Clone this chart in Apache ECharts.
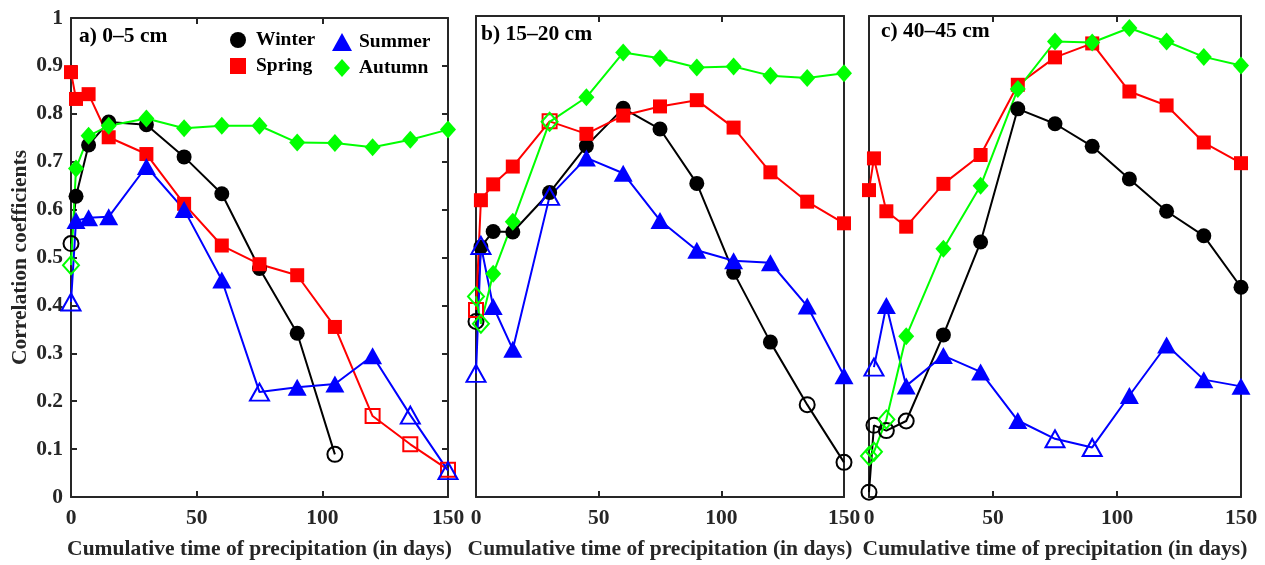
<!DOCTYPE html>
<html>
<head>
<meta charset="utf-8">
<script src="https://cdn.jsdelivr.net/npm/echarts@6/dist/echarts.min.js"></script>
<style>
  html, body { margin: 0; padding: 0; background: #fff; }
  #chart { width: 1265px; height: 565px; }
</style>
</head>
<body>
<div id="chart"></div>
<script>
// cumulative time of precipitation (days)
const days = [0, 2, 7, 15, 30, 45, 60, 75, 90, 105, 120, 135, 150];
const seasons = ['Winter', 'Spring', 'Summer', 'Autumn'];
const panelTitles = ['a) 0\u20135 cm', 'b) 15\u201320 cm', 'c) 40\u201345 cm'];
const xName = 'Cumulative time of precipitation (in days)';
const yName = 'Correlation coefficients';

// correlation coefficients per panel/season (null = no point)
// *Open = indices of hollow (non-significant) markers
const aWinter = [0.529, 0.628, 0.735, 0.783, 0.777, 0.71, 0.633, 0.477, 0.342, 0.089, null, null, null];
const aWinterOpen = [0, 9];
const aSpring = [0.887, 0.831, 0.841, 0.751, 0.716, 0.612, 0.525, 0.486, 0.463, 0.355, 0.169, 0.11, 0.057];
const aSpringOpen = [10, 11, 12];
const aSummer = [0.407, 0.577, 0.583, 0.585, 0.69, 0.6, 0.453, 0.219, 0.229, 0.236, 0.295, 0.171, 0.055];
const aSummerOpen = [0, 7, 11, 12];
const aAutumn = [0.484, 0.686, 0.754, 0.775, 0.79, 0.77, 0.775, 0.775, 0.74, 0.739, 0.73, 0.746, 0.767];
const aAutumnOpen = [0];

const bWinter = [0.365, 0.52, 0.552, 0.551, 0.633, 0.73, 0.808, 0.765, 0.652, 0.467, 0.322, 0.192, 0.072];
const bWinterOpen = [0, 11, 12];
const bSpring = [0.389, 0.617, 0.65, 0.687, 0.781, 0.755, 0.793, 0.812, 0.825, 0.768, 0.675, 0.614, 0.569];
const bSpringOpen = [0, 4];
const bSummer = [0.257, 0.523, 0.396, 0.307, 0.625, 0.705, 0.673, 0.575, 0.513, 0.491, 0.487, 0.397, 0.252];
const bSummerOpen = [0, 1, 4];
const bAutumn = [0.417, 0.36, 0.464, 0.572, 0.78, 0.831, 0.924, 0.912, 0.893, 0.895, 0.876, 0.871, 0.881];
const bAutumnOpen = [0, 1, 4];

const cWinter = [0.01, 0.149, 0.138, 0.158, 0.337, 0.53, 0.807, 0.776, 0.729, 0.661, 0.594, 0.543, 0.436];
const cWinterOpen = [0, 1, 2, 3];
const cSpring = [0.638, 0.704, 0.594, 0.562, 0.651, 0.711, 0.857, 0.914, 0.943, 0.843, 0.814, 0.737, 0.694];
const cSpringOpen = [];
const cSummer = [null, 0.27, 0.398, 0.231, 0.294, 0.26, 0.159, 0.121, 0.103, 0.211, 0.316, 0.244, 0.23];
const cSummerOpen = [1, 7, 8];
const cAutumn = [0.085, 0.094, 0.161, 0.334, 0.516, 0.647, 0.848, 0.947, 0.945, 0.975, 0.947, 0.915, 0.897];
const cAutumnOpen = [0, 1, 2];

const panels = [
  [[aWinter, aWinterOpen], [aSpring, aSpringOpen], [aSummer, aSummerOpen], [aAutumn, aAutumnOpen]],
  [[bWinter, bWinterOpen], [bSpring, bSpringOpen], [bSummer, bSummerOpen], [bAutumn, bAutumnOpen]],
  [[cWinter, cWinterOpen], [cSpring, cSpringOpen], [cSummer, cSummerOpen], [cAutumn, cAutumnOpen]]
];

const colors = { Winter: '#000000', Spring: '#ff0000', Summer: '#0000ff', Autumn: '#00ff00' };
const symbols = { Winter: 'circle', Spring: 'rect', Summer: 'triangle', Autumn: 'diamond' };
const sizes = { Winter: 15, Spring: 14, Summer: [19, 17], Autumn: [16, 18] };

const font = 'Liberation Serif';
const axisColor = '#262626';
const fs = 21.5;

const grids = [
  { left: 71, top: 18, width: 377, height: 480 },
  { left: 476, top: 16, width: 368, height: 482 },
  { left: 869, top: 16, width: 372, height: 482 }
];

const xAxes = [];
const yAxes = [];
grids.forEach((g, i) => {
  const line = { show: true, onZero: false, lineStyle: { color: axisColor, width: 2 } };
  const tick = { show: true, inside: true, length: 6, lineStyle: { color: axisColor, width: 2 } };
  xAxes.push({
    type: 'value', gridIndex: i, position: 'bottom', min: 0, max: 150, interval: 50,
    axisLine: line, axisTick: tick,
    axisLabel: { show: true, margin: 10, color: axisColor, fontFamily: font, fontWeight: 'bold', fontSize: fs },
    splitLine: { show: false },
    name: xName, nameLocation: 'middle', nameGap: 41,
    nameTextStyle: { color: axisColor, fontFamily: font, fontWeight: 'bold', fontSize: fs }
  });
  xAxes.push({
    type: 'value', gridIndex: i, position: 'top', min: 0, max: 150, interval: 50,
    axisLine: line, axisTick: tick,
    axisLabel: { show: false }, splitLine: { show: false }
  });
  const hasTicks = i === 0;
  yAxes.push({
    type: 'value', gridIndex: i, position: 'left', min: 0, max: 1, interval: 0.1,
    axisLine: line,
    axisTick: Object.assign({}, tick, { show: hasTicks }),
    axisLabel: {
      show: hasTicks, margin: 8, color: axisColor, fontFamily: font, fontWeight: 'bold', fontSize: fs,
      formatter: v => (v === 0 ? '0' : Math.abs(v - 1) < 1e-9 ? '1' : v.toFixed(1))
    },
    splitLine: { show: false },
    name: hasTicks ? yName : '', nameLocation: 'middle', nameGap: 40,
    nameTextStyle: { color: axisColor, fontFamily: font, fontWeight: 'bold', fontSize: fs }
  });
  yAxes.push({
    type: 'value', gridIndex: i, position: 'right', min: 0, max: 1, interval: 0.1,
    axisLine: line,
    axisTick: Object.assign({}, tick, { show: hasTicks }),
    axisLabel: { show: false }, splitLine: { show: false }
  });
});

const series = [];
panels.forEach((panel, p) => {
  panel.forEach(([vals, open], s) => {
    const name = seasons[s];
    const c = colors[name];
    const data = [];
    vals.forEach((v, k) => {
      if (v === null) return;
      if (open.indexOf(k) >= 0) {
        data.push({ value: [days[k], v], itemStyle: { color: 'rgba(0,0,0,0)', borderColor: c, borderWidth: 2 } });
      } else {
        data.push({ value: [days[k], v] });
      }
    });
    series.push({
      name: name, type: 'line', xAxisIndex: p * 2, yAxisIndex: p * 2,
      data: data, symbol: symbols[name], symbolSize: sizes[name], showAllSymbol: true,
      clip: false,
      lineStyle: { color: c, width: 2 },
      itemStyle: { color: c },
      emphasis: { disabled: true }
    });
  });
});

function legendItem(name, icon, left, top, w, h, pad) {
  return {
    data: [{ name: name, icon: icon }],
    left: left, top: top, padding: 0,
    itemWidth: w, itemHeight: h,
    textStyle: { color: '#000', fontFamily: font, fontWeight: 'bold', fontSize: 19.5, padding: [0, 0, 0, pad] }
  };
}

const chart = echarts.init(document.getElementById('chart'));
chart.setOption({
  animation: false,
  backgroundColor: '#fff',
  title: panelTitles.map((t, i) => ({
    text: t,
    left: [79, 481, 881][i],
    top: [25, 23, 20][i],
    padding: 0,
    textStyle: { color: '#000', fontFamily: font, fontWeight: 'bold', fontSize: fs }
  })),
  legend: [
    legendItem('Winter', 'circle', 230, 30, 16, 16, 5),
    legendItem('Spring', 'rect', 230, 56, 16, 16, 5),
    legendItem('Summer', 'triangle', 332, 32, 20, 18, 2),
    legendItem('Autumn', 'diamond', 334, 58, 16, 18, 4)
  ],
  grid: grids,
  xAxis: xAxes,
  yAxis: yAxes,
  series: series
});
</script>
</body>
</html>
